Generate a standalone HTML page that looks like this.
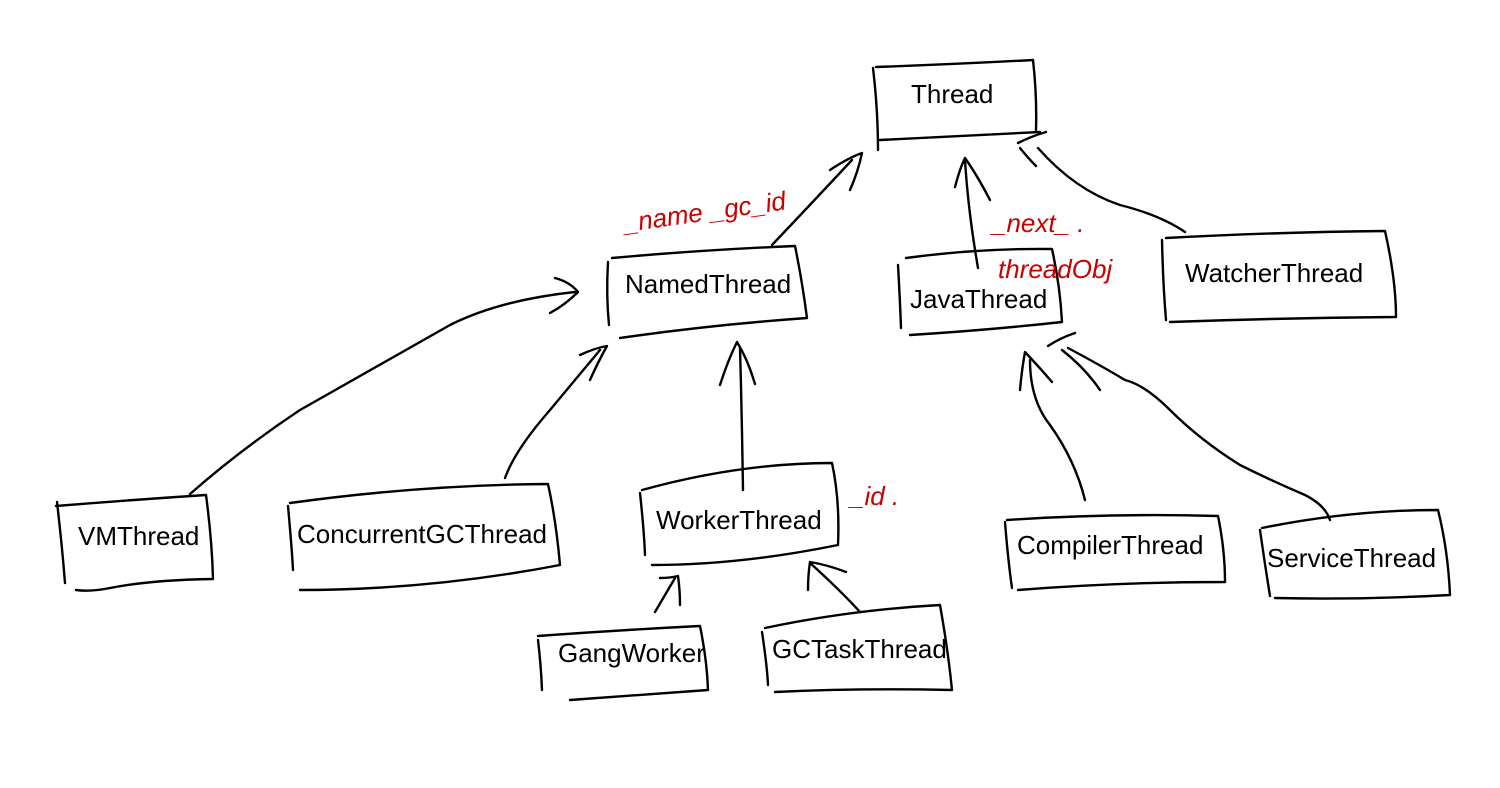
<!DOCTYPE html>
<html><head><style>
html,body{margin:0;padding:0;background:#fff;}
svg{display:block}
text.l{font-family:"Liberation Sans",Arial,sans-serif;font-size:26px;fill:#000}
text.r{font-family:"Liberation Sans",sans-serif;font-size:26px;fill:#c80000;font-style:italic}
</style></head><body>
<svg width="1500" height="788" viewBox="0 0 1500 788" xmlns="http://www.w3.org/2000/svg">
<g fill="none" stroke="#000" stroke-width="2.4" stroke-linecap="round" stroke-linejoin="round">
<path d="M873 68 Q878 110 878 150"/><path d="M876 67 Q960 64 1033 60 Q1037 95 1036 130"/><path d="M880 140 Q960 136 1040 132"/>
<path d="M608 262 Q606 295 609 325"/><path d="M612 258 Q700 250 795 246 Q802 280 807 318 Q710 325 620 338"/>
<path d="M898 265 Q900 300 901 328"/><path d="M906 258 Q980 248 1052 249 Q1060 285 1062 322 Q990 330 910 335"/>
<path d="M1162 240 Q1163 285 1166 320"/><path d="M1166 238 Q1280 232 1385 231 Q1396 280 1396 317 Q1280 318 1170 322"/>
<path d="M57 502 Q62 545 65 583"/><path d="M56 506 Q130 500 206 495 Q212 540 213 579 Q150 580 110 588 Q90 592 76 590"/>
<path d="M288 506 Q292 550 293 570"/><path d="M290 503 Q420 485 548 484 Q556 520 560 565 Q430 590 300 590"/>
<path d="M640 493 Q644 530 645 555"/><path d="M642 490 Q740 463 832 463 Q840 500 838 545 Q740 565 652 565"/>
<path d="M538 640 Q541 665 542 690"/><path d="M538 636 Q620 630 700 626 Q707 660 708 690 Q640 695 570 700"/>
<path d="M762 632 Q767 665 768 685"/><path d="M765 628 Q850 610 940 605 Q948 650 952 690 Q860 688 775 692"/>
<path d="M1005 522 Q1008 560 1012 588"/><path d="M1007 520 Q1110 513 1218 516 Q1225 550 1225 582 Q1120 582 1018 590"/>
<path d="M1260 530 Q1265 565 1270 596"/><path d="M1262 528 Q1350 510 1438 510 Q1448 550 1450 595 Q1360 600 1275 598"/>
<path d="M772 245 Q810 205 852 160"/><path d="M830 170 Q848 158 862 153 Q858 172 850 190"/>
<path d="M978 268 Q968 210 965 160"/><path d="M955 187 Q960 168 965 158 Q977 175 990 200"/>
<path d="M1185 232 Q1160 215 1120 205 Q1075 190 1038 148"/><path d="M1018 143 Q1032 136 1046 132"/><path d="M1020 148 Q1028 158 1036 166"/>
<path d="M190 494 Q240 450 300 410 Q380 365 450 325 Q500 300 575 292"/><path d="M555 278 Q570 282 578 292 Q565 305 550 313"/>
<path d="M505 478 Q515 450 550 410 Q575 380 600 350"/><path d="M580 355 Q595 348 607 346 Q598 362 590 380"/>
<path d="M743 490 Q742 420 740 348"/><path d="M720 385 Q728 360 737 342 Q748 360 755 384"/>
<path d="M655 612 Q665 595 675 578"/><path d="M660 578 Q670 578 678 576 Q680 590 680 605"/>
<path d="M860 612 Q840 590 810 563"/><path d="M808 590 Q808 575 810 562 Q828 565 846 572"/>
<path d="M1085 500 Q1075 460 1050 425 Q1030 400 1030 360"/><path d="M1020 390 Q1022 368 1025 352 Q1040 368 1052 382"/>
<path d="M1330 520 Q1325 505 1305 495 Q1270 480 1240 465 Q1200 440 1170 410 Q1145 385 1125 380 Q1100 365 1068 348"/><path d="M1048 346 Q1060 338 1075 333"/><path d="M1062 350 Q1085 368 1100 390"/>
</g>
<text class="l" x="911" y="103">Thread</text>
<text class="l" x="625" y="293">NamedThread</text>
<text class="l" x="910" y="308">JavaThread</text>
<text class="l" x="1185" y="282">WatcherThread</text>
<text class="l" x="78" y="545">VMThread</text>
<text class="l" x="297" y="543">ConcurrentGCThread</text>
<text class="l" x="656" y="529">WorkerThread</text>
<text class="l" x="558" y="662">GangWorker</text>
<text class="l" x="772" y="658">GCTaskThread</text>
<text class="l" x="1017" y="554">CompilerThread</text>
<text class="l" x="1267" y="567">ServiceThread</text>
<text class="r" x="625" y="232" transform="rotate(-8 625 232)">_name _gc_id</text>
<text class="r" x="992" y="232">_next_ .</text>
<text class="r" x="998" y="278">threadObj</text>
<text class="r" x="850" y="505">_id .</text>
</svg>
</body></html>
